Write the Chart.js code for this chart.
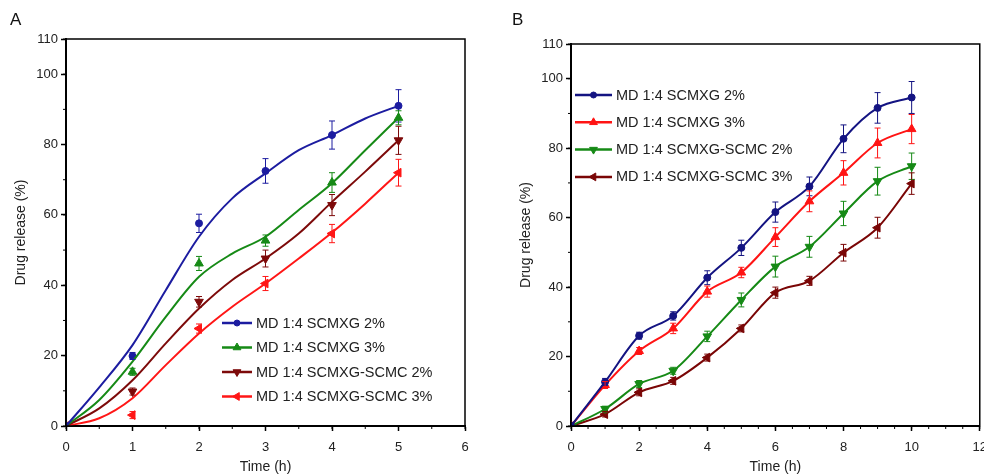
<!DOCTYPE html>
<html>
<head>
<meta charset="utf-8">
<script src="https://cdn.jsdelivr.net/npm/chart.js@4.4.0/dist/chart.umd.min.js"></script>
<style>
html, body { margin:0; padding:0; background:#fff; overflow:hidden; width:984px; height:474px; position:relative; font-family:"Liberation Sans", Arial, sans-serif; }
#wrapA { position:absolute; left:0; top:0; width:490px; height:474px; }
#wrapB { position:absolute; left:490px; top:0; width:506px; height:474px; }
.panel { position:absolute; font-size:17px; color:#111; line-height:1; }
</style>
</head>
<body>
<div id="wrapA"><canvas id="chartA"></canvas></div>
<div id="wrapB"><canvas id="chartB"></canvas></div>
<div class="panel" style="left:10px;top:11px">A</div>
<div class="panel" style="left:512px;top:11px">B</div>
<script>
// ---- data, panel A ----
var namesA = ['MD 1:4 SCMXG 2%', 'MD 1:4 SCMXG 3%', 'MD 1:4 SCMXG-SCMC 2%', 'MD 1:4 SCMXG-SCMC 3%'];
var timeA = [0, 1, 2, 3, 4, 5];
var xg2A = [0, 19.9, 57.6, 72.5, 82.7, 91];
var xg3A = [0, 15.4, 46.2, 52.7, 69.2, 87.6];
var cm2A = [0, 9.8, 35.3, 47.6, 62.8, 81.2];
var cm3A = [0, 3.1, 27.7, 40.5, 54.7, 72];
var xg2ErrA = [0, 1, 2.6, 3.5, 4, 4.6];
var xg3ErrA = [0, 1, 2, 1.6, 2.8, 2];
var cm2ErrA = [0, 1, 1.5, 2.4, 3, 4];
var cm3ErrA = [0, 1, 1.3, 2, 2.6, 3.8];
// fitted curves, every half hour
var fitTimeA = [0, 0.5, 1, 1.5, 2, 2.5, 3, 3.5, 4, 4.5, 5];
var xg2FitA = [0, 11, 23, 38.6, 53.8, 64.7, 71.8, 78.4, 82.7, 87.4, 91];
var xg3FitA = [0, 7.4, 18.3, 31, 42.4, 49, 53.8, 61.4, 69, 78.4, 87.6];
var cm2FitA = [0, 5, 13, 23.5, 33.4, 41.5, 47.6, 54.7, 63.7, 72.3, 81.2];
var cm3FitA = [0, 2.2, 7.9, 17.3, 26.3, 33.9, 40.5, 47.6, 55, 63.2, 72];

// ---- data, panel B ----
var namesB = ['MD 1:4 SCMXG 2%', 'MD 1:4 SCMXG 3%', 'MD 1:4 SCMXG-SCMC 2%', 'MD 1:4 SCMXG-SCMC 3%'];
var timeB = [0, 1, 2, 3, 4, 5, 6, 7, 8, 9, 10];
var xg2B = [0, 12.7, 26, 31.7, 42.7, 51.3, 61.6, 69, 82.7, 91.6, 94.6];
var xg3B = [0, 11.8, 21.6, 28.1, 38.7, 44.2, 54.4, 64.7, 72.9, 81.5, 85.5];
var cm2B = [0, 4.9, 12.1, 15.9, 25.8, 36.3, 45.9, 51.6, 61.2, 70.5, 74.8];
var cm3B = [0, 3.4, 9.7, 13, 19.7, 28.1, 38.4, 41.8, 49.9, 57.1, 69.8];
var xg2ErrB = [0, 1, 1, 1.2, 2, 2.2, 2.9, 2.7, 4, 4.4, 4.6];
var xg3ErrB = [0, 1, 1, 1.5, 1.6, 1.5, 2.7, 3, 3.5, 4.3, 4.2];
var cm2ErrB = [0, 0.8, 1, 1, 1.5, 2, 3, 3, 3.5, 4, 3.8];
var cm3ErrB = [0, 0.8, 1, 1, 1, 1, 1.6, 1.3, 2.4, 3, 3.1];

var yTickVals = [0, 20, 40, 60, 80, 100, 110];

function pts(xs, ys) {
  return xs.map(function (x, i) { return { x: x, y: ys[i] }; });
}

function curve(xs, ys, color) {
  return {
    data: pts(xs, ys), showLine: true, pointRadius: 0, borderColor: color,
    borderWidth: 2, cubicInterpolationMode: 'monotone', fill: false
  };
}

function marks(xs, ys, errs, color, style, rot, r, withLine) {
  return {
    data: pts(xs, ys), showLine: !!withLine, borderColor: color, backgroundColor: color,
    borderWidth: 2, cubicInterpolationMode: 'monotone',
    pointStyle: style, rotation: rot, pointRadius: r, pointBorderWidth: 1,
    pointBackgroundColor: color, pointBorderColor: color, errors: errs, legendItem: true
  };
}

// error bars + minor ticks + frame + legend
var extras = {
  id: 'extras',
  afterDatasetsDraw: function (chart) {
    var ctx = chart.ctx, xs = chart.scales.x, ys = chart.scales.y;
    ctx.save();
    chart.data.datasets.forEach(function (ds) {
      if (!ds.errors) return;
      ctx.strokeStyle = ds.borderColor;
      ctx.lineWidth = 1;
      ds.data.forEach(function (p, i) {
        var e = ds.errors[i];
        if (!e) return;
        var px = xs.getPixelForValue(p.x);
        var t = ys.getPixelForValue(p.y + e), b = ys.getPixelForValue(p.y - e);
        ctx.beginPath();
        ctx.moveTo(px, t); ctx.lineTo(px, b);
        ctx.moveTo(px - 3, t); ctx.lineTo(px + 3, t);
        ctx.moveTo(px - 3, b); ctx.lineTo(px + 3, b);
        ctx.stroke();
      });
    });
    ctx.restore();
  },
  afterDraw: function (chart, args, opts) {
    var ctx = chart.ctx, a = chart.chartArea, xs = chart.scales.x, ys = chart.scales.y;
    ctx.save();
    ctx.strokeStyle = '#000';
    ctx.lineWidth = 1;
    var v, p;
    for (v = xs.min; v <= xs.max + 1e-9; v += opts.xMinor) {
      p = xs.getPixelForValue(v);
      ctx.beginPath(); ctx.moveTo(p, a.bottom); ctx.lineTo(p, a.bottom + 3); ctx.stroke();
    }
    for (v = ys.min; v <= ys.max + 1e-9; v += 10) {
      p = ys.getPixelForValue(v);
      ctx.beginPath(); ctx.moveTo(a.left, p); ctx.lineTo(a.left - 3, p); ctx.stroke();
    }
    ctx.lineWidth = 1.5;
    ctx.strokeRect(a.left, a.top, a.right - a.left, a.bottom - a.top);

    // legend
    var lg = opts.legend;
    var items = chart.data.datasets.filter(function (d) { return d.legendItem; });
    ctx.font = '14.5px "Liberation Sans", Arial, sans-serif';
    ctx.textBaseline = 'middle';
    items.forEach(function (d, i) {
      var y = lg.y + i * lg.gap;
      ctx.strokeStyle = d.borderColor;
      ctx.fillStyle = d.borderColor;
      ctx.lineWidth = 2.5;
      ctx.beginPath(); ctx.moveTo(lg.x, y); ctx.lineTo(lg.x + lg.len, y); ctx.stroke();
      ctx.lineWidth = 1;
      Chart.helpers.drawPoint(ctx, { pointStyle: d.pointStyle, rotation: d.rotation, radius: d.pointRadius - 0.5, borderWidth: 1 }, lg.x + lg.len / 2, y);
      ctx.fillStyle = '#222';
      ctx.fillText(lg.names[i], lg.x + lg.len + 4, y + 0.5);
    });
    ctx.restore();
  }
};

function scalesFor(xMax, xStep) {
  var tickFont = { family: '"Liberation Sans", Arial, sans-serif', size: 13 };
  var titleFont = { family: '"Liberation Sans", Arial, sans-serif', size: 14 };
  return {
    x: {
      type: 'linear', min: 0, max: xMax,
      ticks: { stepSize: xStep, color: '#222', font: tickFont, padding: 9, maxRotation: 0 },
      grid: { drawOnChartArea: false, tickLength: 5, tickColor: '#000', tickWidth: 1.5 },
      border: { color: '#000', width: 2 },
      title: { display: true, text: 'Time (h)', color: '#222', font: titleFont, padding: { top: 0, bottom: -2 } },
      afterFit: function (s) { s.height = 48; }
    },
    y: {
      type: 'linear', min: 0, max: 110,
      afterBuildTicks: function (s) { s.ticks = yTickVals.map(function (v) { return { value: v }; }); },
      ticks: { color: '#222', font: tickFont, padding: 3 },
      grid: { drawOnChartArea: false, tickLength: 5, tickColor: '#000', tickWidth: 1.5 },
      border: { color: '#000', width: 2 },
      title: { display: true, text: 'Drug release (%)', color: '#222', font: titleFont, padding: { top: 12.6, bottom: 0 } },
      afterFit: function (s) { s.width = 66; }
    }
  };
}

var cA = { xg2: '#1c1ca0', xg3: '#168a16', cm2: '#7d0a0a', cm3: '#ff1616' };
new Chart(document.getElementById('chartA'), {
  type: 'scatter',
  data: {
    datasets: [
      curve(fitTimeA, xg2FitA, cA.xg2),
      curve(fitTimeA, xg3FitA, cA.xg3),
      curve(fitTimeA, cm2FitA, cA.cm2),
      curve(fitTimeA, cm3FitA, cA.cm3),
      marks(timeA, xg2A, xg2ErrA, cA.xg2, 'circle', 0, 3.5),
      marks(timeA, xg3A, xg3ErrA, cA.xg3, 'triangle', 0, 5),
      marks(timeA, cm2A, cm2ErrA, cA.cm2, 'triangle', 180, 5),
      marks(timeA, cm3A, cm3ErrA, cA.cm3, 'triangle', 270, 5)
    ]
  },
  options: {
    responsive: true, maintainAspectRatio: false, animation: false,
    layout: { padding: { left: 0, top: 39, right: 25, bottom: 0 } },
    scales: scalesFor(6, 1),
    plugins: {
      legend: { display: false }, tooltip: { enabled: false },
      extras: { xMinor: 0.5, legend: { x: 222, y: 323, gap: 24.5, len: 30, names: namesA } }
    }
  },
  plugins: [extras]
});

var cB = { xg2: '#141482', xg3: '#ff1414', cm2: '#168a16', cm3: '#7a0606' };
new Chart(document.getElementById('chartB'), {
  type: 'scatter',
  data: {
    datasets: [
      marks(timeB, xg2B, xg2ErrB, cB.xg2, 'circle', 0, 3.5, true),
      marks(timeB, xg3B, xg3ErrB, cB.xg3, 'triangle', 0, 5, true),
      marks(timeB, cm2B, cm2ErrB, cB.cm2, 'triangle', 180, 5, true),
      marks(timeB, cm3B, cm3ErrB, cB.cm3, 'triangle', 270, 5, true)
    ]
  },
  options: {
    responsive: true, maintainAspectRatio: false, animation: false,
    layout: { padding: { left: 15, top: 44, right: 0, bottom: 0 } },
    scales: scalesFor(12, 2),
    plugins: {
      legend: { display: false }, tooltip: { enabled: false },
      extras: { xMinor: 0.5, legend: { x: 85, y: 95, gap: 27.3, len: 37, names: namesB } }
    }
  },
  plugins: [extras]
});
</script>
</body>
</html>
